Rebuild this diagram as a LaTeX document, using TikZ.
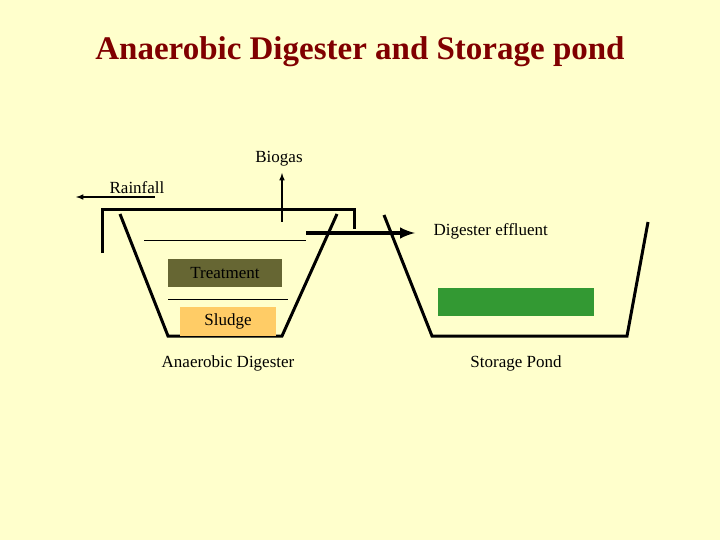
\documentclass[tikz,border=0pt]{standalone}
\usepackage{fontspec}
\setmainfont{Liberation Serif}
\definecolor{bg}{HTML}{FFFFCC}
\definecolor{ttl}{HTML}{800000}
\definecolor{treat}{HTML}{666633}
\definecolor{sludge}{HTML}{FFCC66}
\definecolor{pondg}{HTML}{339933}
\begin{document}
\begin{tikzpicture}[x=1pt,y=-1pt,
  wall/.style={line width=3pt},
  thin/.style={line width=1pt},
  lab/.style={font=\fontsize{17}{20}\selectfont}]
\fill[bg] (0,0) rectangle (720,540);
\useasboundingbox (0,0) rectangle (720,540);
\node[font=\fontsize{33}{38}\selectfont\bfseries,text=ttl] (title) at (360,52) {Anaerobic Digester and Storage pond};
% digester
\draw[wall] (120,214) -- (168,336) -- (282,336) -- (337,214);
\draw[wall] (102,253) -- (102,210) -- (354,210) -- (354,229);
\coordinate (bg0) at (282,222); \coordinate (bg1) at (282,173);
\draw[line width=1.5pt,-latex] (bg0) -- (bg1);
\node[lab] (biogas) at (279,159) {Biogas};
\coordinate (r0) at (155,197); \coordinate (r1) at (76,197);
\draw[line width=1.5pt,-latex] (r0) -- (r1);
\node[lab] (rain) at (137,188) {Rainfall};
\draw[thin] (144,240) -- (306,240);
\node[fill=treat,minimum width=114pt,minimum height=28pt,inner sep=0pt,lab] (treatment) at (225,273) {Treatment};
\draw[thin] (168,299) -- (288,299);
\node[fill=sludge,minimum width=96pt,minimum height=29pt,inner sep=0pt,lab] (sludge) at (228,321) {Sludge};
\node[lab] (ad) at (228,363) {Anaerobic Digester};
% effluent
\coordinate (e0) at (306,233); \coordinate (e1) at (415,233);
\draw[line width=4pt,-latex] (e0) -- (e1);
\node[lab,anchor=west] (eff) at (430,231) {Digester effluent};
% pond
\draw[wall] (384,215) -- (432,336) -- (627,336) -- (648,222);
\node[fill=pondg,minimum width=156pt,minimum height=28pt,inner sep=0pt] (water) at (516,302) {};
\node[lab] (sp) at (516,363) {Storage Pond};
\end{tikzpicture}
\end{document}
